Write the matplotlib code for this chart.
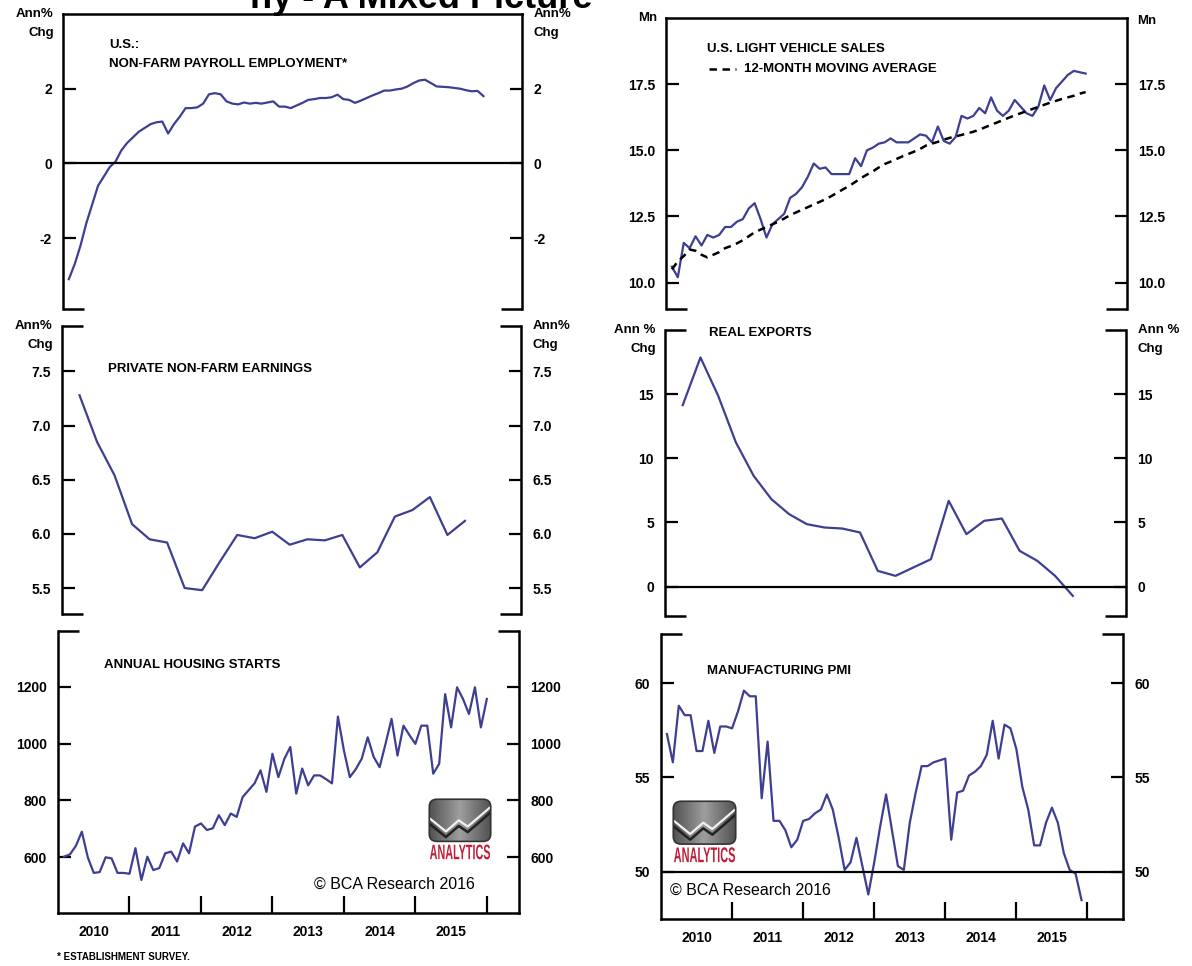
import numpy as np
import matplotlib
matplotlib.use("Agg")
import matplotlib.pyplot as plt
from matplotlib.patches import FancyBboxPatch, PathPatch
from matplotlib.textpath import TextPath
from matplotlib.font_manager import FontProperties
from matplotlib.transforms import Affine2D

plt.rcParams['font.family'] = ['Liberation Sans', 'DejaVu Sans']
plt.rcParams['font.weight'] = 'bold'
plt.rcParams['axes.unicode_minus'] = False

# monthly series, Jan 2010 onwards
payroll = [-3.1, -2.7, -2.2, -1.6, -1.1, -0.6, -0.35, -0.1, 0.05, 0.35, 0.55, 0.7,
           0.85, 0.95, 1.05, 1.1, 1.12, 0.8, 1.05, 1.25, 1.48, 1.48, 1.5, 1.6,
           1.85, 1.88, 1.85, 1.66, 1.6, 1.58, 1.63, 1.6, 1.62, 1.6, 1.63, 1.66,
           1.52, 1.52, 1.48, 1.55, 1.62, 1.7, 1.72, 1.75, 1.75, 1.77, 1.84, 1.72,
           1.7, 1.62, 1.68, 1.75, 1.82, 1.88, 1.95, 1.95, 1.98, 2.0, 2.06, 2.15,
           2.22, 2.24, 2.15, 2.06, 2.05, 2.04, 2.02, 2.0, 1.96, 1.93, 1.94, 1.8]

vehicles = [10.6, 10.2, 11.5, 11.3, 11.75, 11.4, 11.8, 11.7, 11.8, 12.1, 12.1, 12.3,
            12.4, 12.8, 13.0, 12.4, 11.7, 12.2, 12.4, 12.6, 13.2, 13.35, 13.6, 14.0,
            14.5, 14.3, 14.35, 14.1, 14.1, 14.1, 14.1, 14.7, 14.4, 15.0, 15.1, 15.25,
            15.3, 15.45, 15.3, 15.3, 15.3, 15.45, 15.6, 15.55, 15.3, 15.9, 15.35, 15.25,
            15.5, 16.3, 16.2, 16.3, 16.6, 16.4, 17.0, 16.5, 16.3, 16.5, 16.9, 16.65,
            16.4, 16.3, 16.65, 17.45, 16.9, 17.35, 17.6, 17.85, 18.0, 17.95, 17.9]

vehicles_ma = [10.5, 10.8, 11.0, 11.25, 11.2, 11.05, 10.95, 11.05, 11.15, 11.3, 11.38, 11.48,
               11.6, 11.75, 11.9, 12.0, 12.1, 12.2, 12.3, 12.42, 12.55, 12.65, 12.75, 12.85,
               12.95, 13.05, 13.15, 13.27, 13.4, 13.53, 13.65, 13.8, 13.95, 14.08, 14.2, 14.35,
               14.48, 14.57, 14.67, 14.77, 14.86, 14.95, 15.05, 15.18, 15.25, 15.32, 15.4, 15.47,
               15.52, 15.58, 15.64, 15.7, 15.78, 15.87, 15.96, 16.05, 16.14, 16.23, 16.32, 16.4,
               16.48, 16.56, 16.64, 16.72, 16.8, 16.87, 16.94, 17.0, 17.06, 17.14, 17.2]

housing = [602, 610, 640, 690, 600, 545, 548, 600, 596, 545, 545, 542,
           632, 520, 602, 555, 562, 614, 620, 585, 649, 614, 708, 719,
           696, 702, 748, 713, 754, 742, 812, 836, 860, 906, 830, 964,
           882, 946, 988, 824, 912, 853, 888, 888, 875, 860, 1095, 976,
           882, 910, 947, 1022, 953, 917, 1000, 1087, 958, 1063, 1030, 999,
           1063, 1063, 894, 929, 1174, 1057, 1198, 1157, 1104, 1198, 1057, 1157]

pmi = [57.3, 55.8, 58.8, 58.3, 58.3, 56.4, 56.4, 58.0, 56.3, 57.7, 57.7, 57.6,
       58.5, 59.6, 59.3, 59.3, 53.9, 56.9, 52.7, 52.7, 52.2, 51.3, 51.7, 52.7,
       52.8, 53.1, 53.3, 54.1, 53.3, 51.8, 50.1, 50.5, 51.8, 50.3, 48.8, 50.5,
       52.4, 54.1, 52.2, 50.3, 50.1, 52.6, 54.2, 55.6, 55.6, 55.8, 55.9, 56.0,
       51.7, 54.2, 54.3, 55.1, 55.3, 55.6, 56.2, 58.0, 56.0, 57.8, 57.6, 56.5,
       54.5, 53.3, 51.4, 51.4, 52.6, 53.4, 52.6, 51.0, 50.1, 49.9, 48.5]

# quarterly series, Q1 2010 onwards
earnings = [7.28, 6.85, 6.54, 6.09, 5.95, 5.92, 5.5, 5.48, 5.74, 5.99, 5.96, 6.02,
            5.9, 5.95, 5.94, 5.99, 5.69, 5.83, 6.16, 6.22, 6.34, 5.99, 6.12]

exports = [14.14, 17.86, 14.87, 11.23, 8.63, 6.81, 5.64, 4.86, 4.6, 4.52, 4.21, 1.22,
           0.83, 1.48, 2.13, 6.68, 4.08, 5.12, 5.3, 2.78, 2.0, 0.83, -0.73]

years = [2010, 2011, 2012, 2013, 2014, 2015]


def monthly_x(vals):
    return 2010 + (np.arange(len(vals)) + 1) / 12


def quarterly_x(vals):
    return 2010 + (np.arange(len(vals)) + 1) / 4


LINE = '#3e3e92'
W, H = 1192, 966
fig = plt.figure(figsize=(W / 100, H / 100), dpi=100)


def px_axes(x0, y0, x1, y1):
    return fig.add_axes([x0 / W, 1 - y1 / H, (x1 - x0) / W, (y1 - y0) / H])


def frame(ax, top_full=False, bottom_full=False, stub=0.045):
    for s in ['left', 'right', 'top', 'bottom']:
        ax.spines[s].set_linewidth(1.8)
    ax.spines['top'].set_visible(top_full)
    ax.spines['bottom'].set_visible(bottom_full)
    ends = []
    if not top_full:
        ends.append(1)
    if not bottom_full:
        ends.append(0)
    for y in ends:
        ax.plot([0, stub], [y, y], transform=ax.transAxes, color='k', lw=1.8,
                clip_on=False, solid_capstyle='butt')
        ax.plot([1 - stub, 1], [y, y], transform=ax.transAxes, color='k', lw=1.8,
                clip_on=False, solid_capstyle='butt')
    ax.tick_params(axis='y', direction='in', length=9, width=1.6, left=True, right=True,
                   labelleft=True, labelright=True, labelsize=10, pad=8)
    ax.set_xticks([])


def year_axis(ax):
    ax.set_xticks([y + 1 for y in years])
    ax.set_xticklabels([])
    ax.set_xticks([y + 0.5 for y in years], minor=True)
    ax.set_xticklabels([str(y) for y in years], minor=True)
    ax.tick_params(axis='x', which='major', direction='in', length=12, width=1.6)
    ax.tick_params(axis='x', which='minor', length=0, labelsize=10, pad=9)


def unit_labels(ax, first, second, gap=19):
    # two-line unit caption on both sides of the panel top
    h = ax.get_position().height * H
    for x, ha in [(-0.02, 'right'), (1.025, 'left')]:
        ax.text(x, 1.0, first, transform=ax.transAxes, ha=ha, va='center', fontsize=9.5)
        ax.text(x, 1.0 - gap / h, second, transform=ax.transAxes, ha=ha, va='center',
                fontsize=9.5)


def logo(x0, y0, x1, y1):
    lax = fig.add_axes([x0 / W, 1 - (y1 + 18) / H, (x1 - x0) / W, (y1 + 18 - y0) / H])
    lax.set_xlim(0, 1)
    lax.set_ylim(0, 1)
    lax.axis('off')
    grad = np.abs(np.linspace(-1, 1, 60))[None, :] * np.ones((30, 1))
    im = lax.imshow(0.62 - 0.3 * grad, extent=(0.02, 0.98, 0.3, 0.98), cmap='gray',
                    vmin=0, vmax=1, aspect='auto', zorder=1)
    box = FancyBboxPatch((0.02, 0.3), 0.96, 0.68, boxstyle='round,pad=0,rounding_size=0.12',
                         facecolor='none', edgecolor='#333333', lw=1.2, zorder=3)
    lax.add_patch(box)
    im.set_clip_path(box)
    zx = [0.04, 0.28, 0.48, 0.62, 0.78, 0.96]
    zy = [0.66, 0.46, 0.64, 0.54, 0.68, 0.84]
    lax.plot(zx, [v - 0.09 for v in zy], color='#222222', lw=1.8, zorder=2)
    lax.plot(zx, zy, color='#f2f2f2', lw=1.6, zorder=2)
    # condensed red wordmark
    tp = TextPath((0, 0), 'ANALYTICS', size=1,
                  prop=FontProperties(family='Liberation Sans', weight='bold'))
    ext = tp.get_extents()
    tr = (Affine2D().translate(-ext.x0, -ext.y0)
          .scale(0.94 / ext.width, 0.24 / ext.height).translate(0.03, 0.01))
    lax.add_patch(PathPatch(tr.transform_path(tp), facecolor='#c01f3a', edgecolor='none'))


# top left: payroll employment
ax1 = px_axes(63, 14, 522, 309)
ax1.plot(monthly_x(payroll), payroll, color=LINE, lw=1.6)
ax1.axhline(0, color='k', lw=1.6)
ax1.set_xlim(2010, 2016.55)
ax1.set_ylim(-3.9, 4.0)
ax1.set_yticks([-2, 0, 2])
frame(ax1, top_full=True)
unit_labels(ax1, 'Ann%', 'Chg')
ax1.text(0.1, 0.895, 'U.S.:', transform=ax1.transAxes, fontsize=9.5, va='center')
ax1.text(0.1, 0.83, 'NON-FARM PAYROLL EMPLOYMENT*', transform=ax1.transAxes,
         fontsize=9.5, va='center')

# top right: light vehicle sales
ax2 = px_axes(666, 18, 1127, 309)
ax2.plot(monthly_x(vehicles), vehicles, color=LINE, lw=1.6)
ax2.plot(monthly_x(vehicles_ma), vehicles_ma, color='k', lw=1.8, dashes=(3, 2.2))
ax2.set_xlim(2010, 2016.5)
ax2.set_ylim(9.0, 20.0)
ax2.set_yticks([10.0, 12.5, 15.0, 17.5])
ax2.set_yticklabels(['10.0', '12.5', '15.0', '17.5'])
frame(ax2, top_full=True)
ax2.text(-0.02, 1.0, 'Mn', transform=ax2.transAxes, ha='right', va='center', fontsize=9.5)
ax2.text(1.022, 0.99, 'Mn', transform=ax2.transAxes, ha='left', va='center', fontsize=9.5)
ax2.text(0.09, 0.895, 'U.S. LIGHT VEHICLE SALES', transform=ax2.transAxes,
         fontsize=9.5, va='center')
ax2.plot([0.093, 0.152], [0.825, 0.825], transform=ax2.transAxes, color='k', lw=1.8,
         dashes=(3, 2.2))
ax2.text(0.17, 0.825, '12-MONTH MOVING AVERAGE', transform=ax2.transAxes,
         fontsize=9.5, va='center')

# middle left: private earnings
ax3 = px_axes(62, 326, 521, 614)
ax3.plot(quarterly_x(earnings), earnings, color=LINE, lw=1.6)
ax3.set_xlim(2010, 2016.55)
ax3.set_ylim(5.26, 7.92)
ax3.set_yticks([5.5, 6.0, 6.5, 7.0, 7.5])
ax3.set_yticklabels(['5.5', '6.0', '6.5', '7.0', '7.5'])
frame(ax3)
unit_labels(ax3, 'Ann%', 'Chg')
ax3.text(0.1, 0.85, 'PRIVATE NON-FARM EARNINGS', transform=ax3.transAxes,
         fontsize=9.5, va='center')

# middle right: real exports
ax4 = px_axes(665, 330, 1126, 616)
ax4.plot(quarterly_x(exports), exports, color=LINE, lw=1.6)
ax4.axhline(0, color='k', lw=1.6)
ax4.set_xlim(2010, 2016.5)
ax4.set_ylim(-2.3, 20)
ax4.set_yticks([0, 5, 10, 15])
frame(ax4)
unit_labels(ax4, 'Ann %', 'Chg')
ax4.text(0.095, 0.99, 'REAL EXPORTS', transform=ax4.transAxes, fontsize=9.5, va='center')

# bottom left: housing starts
ax5 = px_axes(58, 631, 519, 913)
ax5.plot(monthly_x(housing), housing, color=LINE, lw=1.6)
ax5.set_xlim(2010, 2016.45)
ax5.set_ylim(404, 1396)
ax5.set_yticks([600, 800, 1000, 1200])
frame(ax5, bottom_full=True)
year_axis(ax5)
ax5.text(0.1, 0.88, 'ANNUAL HOUSING STARTS', transform=ax5.transAxes,
         fontsize=9.5, va='center')
ax5.text(0.555, 0.1, '\u00a9 BCA Research 2016', transform=ax5.transAxes, fontsize=11.5,
         fontweight='normal', va='center')

# bottom right: manufacturing PMI
ax6 = px_axes(661, 634, 1123, 919)
ax6.plot(monthly_x(pmi), pmi, color=LINE, lw=1.6)
ax6.axhline(50, color='k', lw=1.6)
ax6.set_xlim(2010, 2016.5)
ax6.set_ylim(47.5, 62.6)
ax6.set_yticks([50, 55, 60])
frame(ax6, bottom_full=True)
year_axis(ax6)
ax6.text(0.1, 0.87, 'MANUFACTURING PMI', transform=ax6.transAxes,
         fontsize=9.5, va='center')
ax6.text(0.02, 0.1, '\u00a9 BCA Research 2016', transform=ax6.transAxes, fontsize=11.5,
         fontweight='normal', va='center')

logo(428, 798, 492, 842)
logo(672, 800, 737, 845)

fig.text(57 / W, 1 - 957 / H, '* ESTABLISHMENT SURVEY.', fontsize=7, va='center')
fig.text(592 / W, 1 - 8 / H, 'ny - A Mixed Picture', fontsize=26, ha='right',
         va='baseline')

fig.savefig('out.png', dpi=100)
